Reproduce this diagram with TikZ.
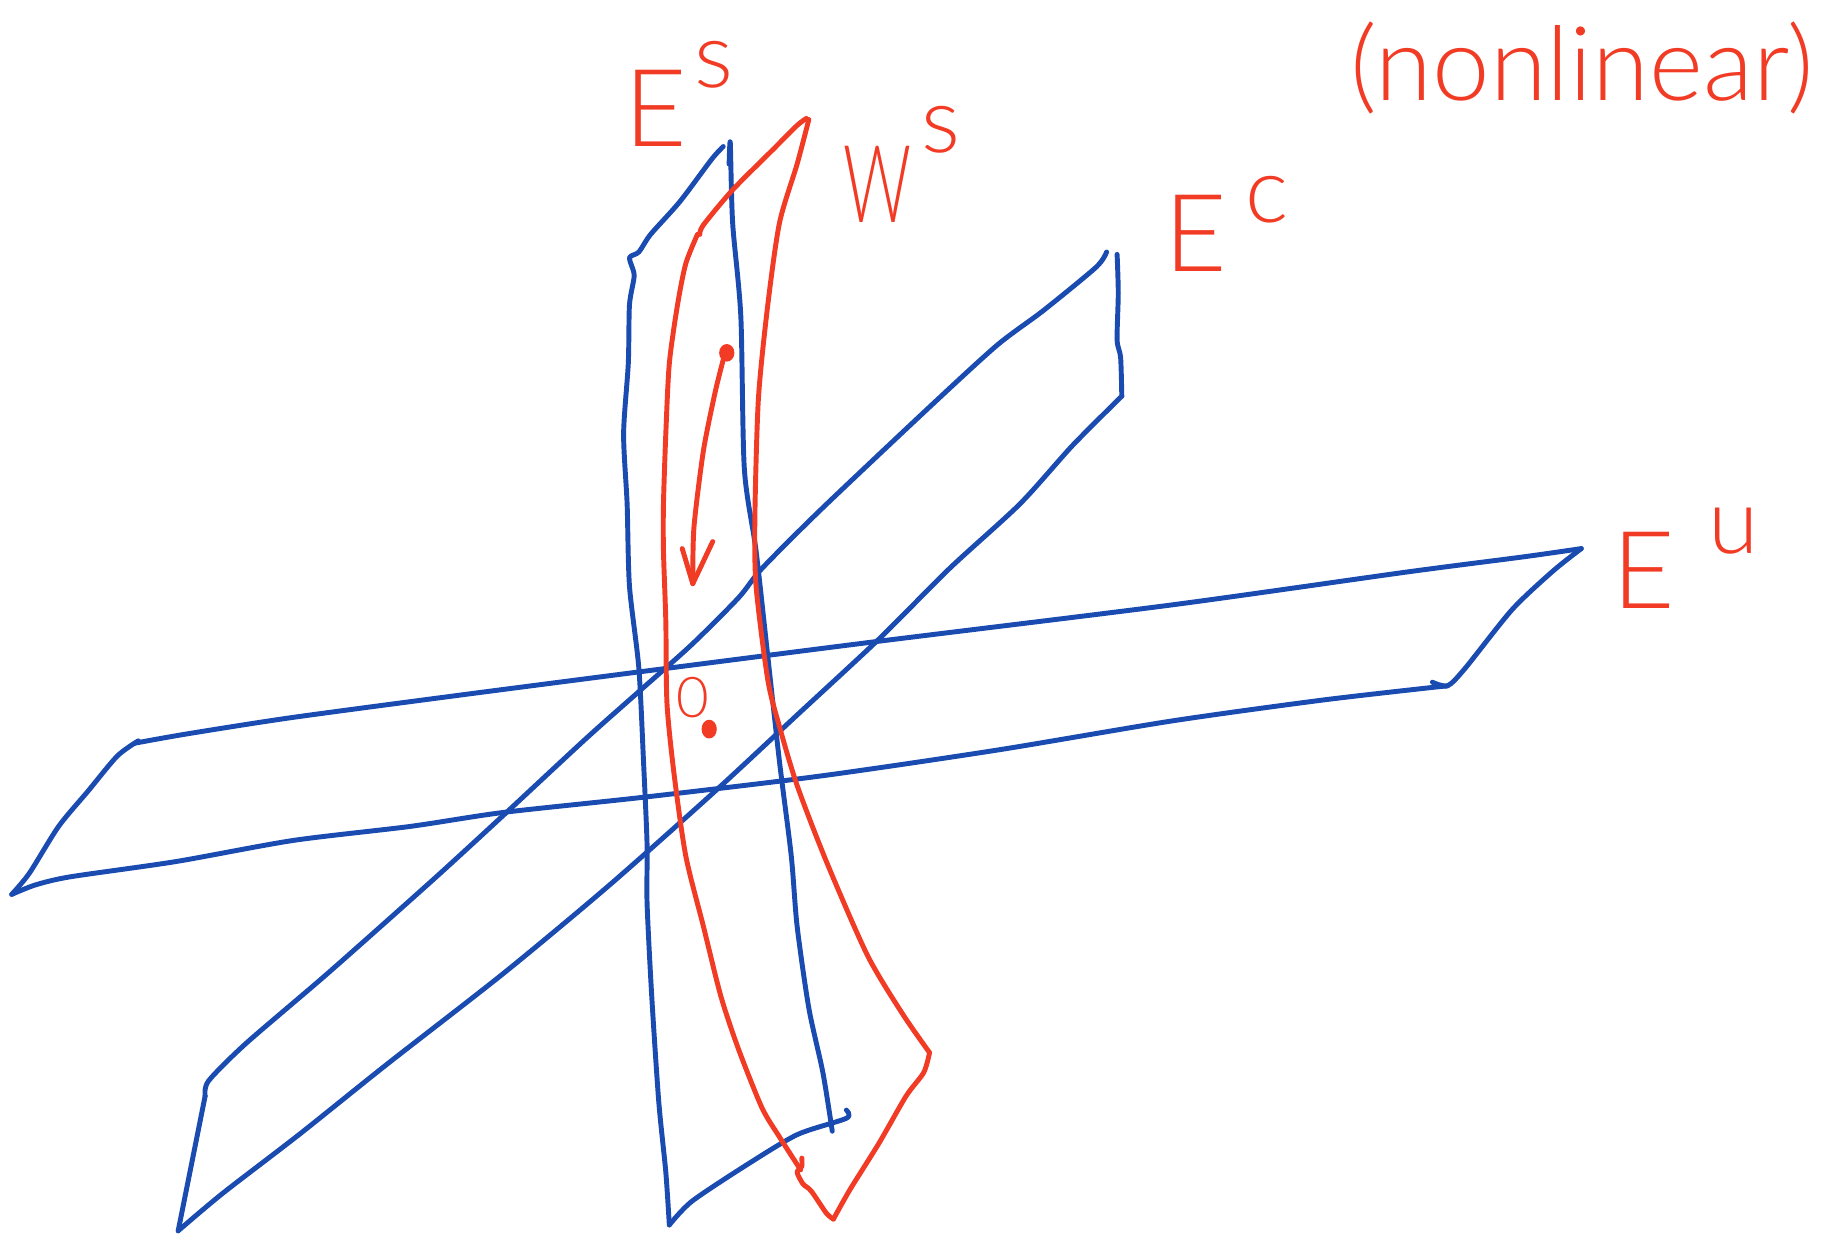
\documentclass[tikz,border=0pt]{standalone}
\usepackage{fontspec}
\setmainfont{Lato Light}
\definecolor{pen}{HTML}{F23B25}
\definecolor{ink}{HTML}{1A4BB0}
\newcommand{\lab}[4]{\fontsize{92}{92}\selectfont #1\hspace{#3}\raisebox{#4}{\fontsize{78}{78}\selectfont #2}}
\tikzset{
  bluepen/.style={draw=ink,line width=4.2pt,line cap=round,line join=round},
  redpen/.style={draw=pen,line width=4.2pt,line cap=round,line join=round},
  handlabel/.style={text=pen,anchor=base west,inner sep=0pt,outer sep=0pt}
}
\begin{document}
\begin{tikzpicture}[x=1pt,y=-1pt]
\useasboundingbox (0,0) rectangle (1568,1054);
% E^s plane
\draw[bluepen] plot[smooth,tension=0.45] coordinates {(617,125)(607,136)(580,172)(555,200)(545,215)(537,220)(541,235)(537,260)(536,310)(532,370)(535,430)(537,500)(545,570)(549,650)(552,720)(552,770)(556,850)(562,940)(568,1000)(571,1045)};
\draw[bluepen] plot[smooth,tension=0.45] coordinates {(571,1045)(590,1025)(635,995)(680,968)(722,954)(722,947)};
\draw[bluepen] plot[smooth,tension=0.45] coordinates {(622,140)(623,122)(625,190)(632,270)(635,400)(645,470)(655,560)(665,650)(675,730)(680,790)(690,860)(702,915)(710,965)};
% E^c plane
\draw[bluepen] plot[smooth,tension=0.45] coordinates {(944,215)(935,228)(890,265)(850,295)(790,350)(700,435)(650,485)(630,510)(590,550)(545,590)(500,630)(430,695)(370,750)(280,830)(210,890)(178,922)(175,935)};
\draw[bluepen] plot[smooth,tension=0.3] coordinates {(175,935)(165,985)(155,1035)(152,1050)};
\draw[bluepen] plot[smooth,tension=0.45] coordinates {(152,1050)(190,1018)(255,968)(330,908)(430,830)(520,755)(610,675)(680,610)(750,545)(810,485)(870,430)(915,380)(957,338)};
\draw[bluepen] plot[smooth,tension=0.45] coordinates {(957,338)(956,305)(953,290)(954,250)(953,217)};
% E^u plane
\draw[bluepen] plot[smooth,tension=0.45] coordinates {(1349,468)(1300,475)(1200,488)(1000,516)(750,547)(570,570)(400,592)(250,612)(160,626)(115,634)};
\draw[bluepen] plot[smooth,tension=0.45] coordinates {(118,632)(100,645)(75,675)(50,705)(25,745)(10,763)};
\draw[bluepen] plot[smooth,tension=0.45] coordinates {(10,763)(30,755)(60,748)(150,735)(250,717)(350,705)(430,693)(550,680)(700,662)(850,640)(1000,615)(1130,597)(1235,585)};
\draw[bluepen] plot[smooth,tension=0.45] coordinates {(1222,582)(1235,585)(1250,570)(1290,520)(1325,487)(1349,468)};
% W^s surface
\draw[redpen] plot[smooth,tension=0.45] coordinates {(688,101)(680,107)(660,127)(625,162)(600,192)(597,200)};
\draw[redpen] plot[smooth,tension=0.45] coordinates {(595,200)(585,225)(578,260)(571,310)(568,370)(566,430)(566,470)(568,530)(569,600)(575,660)(585,730)(600,790)(615,850)(630,895)(650,945)(665,970)(683,998)};
\draw[redpen] plot[smooth,tension=0.45] coordinates {(684,988)(684,995)(680,1000)(685,1010)(692,1016)(705,1035)(711,1040)};
\draw[redpen] plot[smooth,tension=0.45] coordinates {(711,1040)(725,1015)(750,975)(773,935)(788,915)(793,898)};
\draw[redpen] plot[smooth,tension=0.45] coordinates {(793,898)(770,865)(740,815)(705,735)(680,670)(665,620)(655,580)(645,500)(644,440)(647,340)(655,260)(665,190)(680,140)(690,102)};
% trajectory and fixed point
\fill[pen] (620,301) ellipse (6.5pt and 7.5pt);
\fill[pen] (605,622) ellipse (6.5pt and 8pt);
\draw[redpen] plot[smooth,tension=0.45] coordinates {(618,303)(610,335)(600,385)(592,450)(591,498)};
\draw[redpen] (582,468) -- (591,498) -- (608,462);
% labels
\node[handlabel] (es) at (533,125) {\lab{E}{s}{6pt}{50pt}};
\node[handlabel] (ws) at (720,190) {\lab{\scalebox{.62}[1]{W}}{s}{8pt}{60pt}};
\node[handlabel] (ec) at (993,232) {\lab{E}{c}{16pt}{42pt}};
\node[handlabel] (eu) at (1376,519) {\lab{E}{u}{28pt}{47pt}};
\node[handlabel,font=\fontsize{48}{48}\selectfont] (zero) at (577,612) {0};
\node[handlabel,font=\fontsize{88}{88}\selectfont] (nl) at (1152,86) {(nonlinear)};
\end{tikzpicture}
\end{document}
